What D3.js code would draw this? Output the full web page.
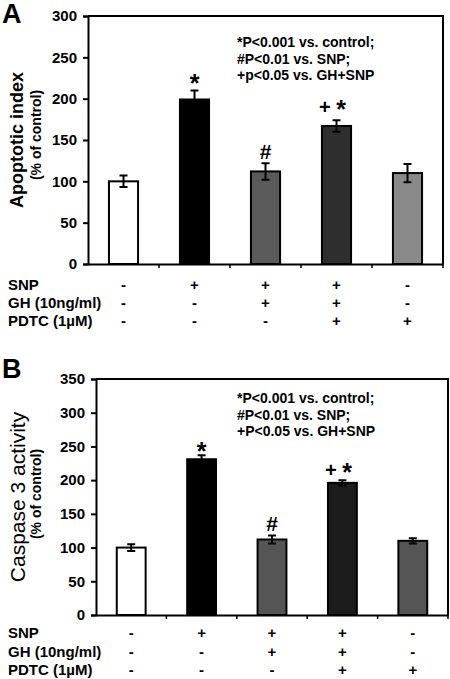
<!DOCTYPE html>
<html><head><meta charset="utf-8">
<script src="https://cdn.jsdelivr.net/npm/d3@7"></script>
<style>body{margin:0;background:#fff}svg{display:block}text{font-family:Arial,"Liberation Sans",sans-serif}</style>
</head><body>
<script>
const groups = ["Control","SNP","GH+SNP","GH+SNP+PDTC","PDTC"];
const rowLabels = ["SNP","GH (10ng/ml)","PDTC (1\u00b5M)"];
const treatments = [["-","+","+","+","-"],["-","-","+","+","-"],["-","-","-","+","+"]];
const notes = ["*P<0.001 vs. control;","#P<0.01 vs. SNP;"];

const apoptoticValues = [100,199,112,167,110];
const apoptoticErrors = [7,11,10,7,11];
const apoptoticColors = ["#ffffff","#000000","#5a5a5a","#2e2e2e","#8a8a8a"];
const apoptoticMarks = ["","*","#","+ *",""];
const apoptoticTicks = [0,50,100,150,200,250,300];
const apoptoticNote3 = "+p<0.05 vs. GH+SNP";

const caspaseValues = [100,231,112,196,110];
const caspaseErrors = [5,6,6,4,4];
const caspaseColors = ["#ffffff","#000000","#555555","#1c1c1c","#555555"];
const caspaseMarks = ["","*","#","+ *",""];
const caspaseTicks = [0,50,100,150,200,250,300,350];
const caspaseNote3 = "+P<0.05 vs. GH+SNP";

const W=450,H=679;
const svg=d3.select("body").append("svg").attr("width",W).attr("height",H);

function panel(cfg){
  const g=svg.append("g");
  const x=d3.scaleBand().domain(groups).range([cfg.left,cfg.right]).paddingInner(0.59).paddingOuter(0.295);
  const xb=d3.scaleBand().domain(groups).range([cfg.left,cfg.right]);
  const y=d3.scaleLinear().domain([0,cfg.ticks[cfg.ticks.length-1]]).range([cfg.bottom,cfg.top]);
  g.append("path").attr("d",`M${cfg.left},${cfg.top}H${cfg.right}V${cfg.bottom}`).attr("fill","none").attr("stroke","#000").attr("stroke-width",2);
  g.selectAll("rect.bar").data(groups).join("rect")
    .attr("x",d=>x(d)).attr("width",x.bandwidth())
    .attr("y",(d,i)=>y(cfg.values[i])).attr("height",(d,i)=>y(0)-y(cfg.values[i]))
    .attr("fill",(d,i)=>cfg.colors[i]).attr("stroke","#000").attr("stroke-width",2);
  groups.forEach((d,i)=>{
    const cx=x(d)+x.bandwidth()/2, v=cfg.values[i], e=cfg.errors[i];
    g.append("path").attr("d",`M${cx},${y(v-e)}V${y(v+e)}M${cx-4},${y(v-e)}H${cx+4}M${cx-4},${y(v+e)}H${cx+4}`)
      .attr("stroke","#000").attr("stroke-width",2).attr("fill","none");
    const m=cfg.marks[i];
    if(m){
      const t=g.append("text").attr("x",cx-(m.length>1?4:0)).attr("y",y(v+e)-cfg.markOff)
        .attr("text-anchor","middle").attr("font-weight","bold");
      if(m==="#") t.attr("font-size",21).attr("dy",-cfg.hashOff).text("#");
      else if(m==="*") t.attr("font-size",25).attr("dy",6).text("*");
      else { t.append("tspan").attr("font-size",20).text("+ ");
             t.append("tspan").attr("font-size",25).attr("dy",4).text("*"); t.attr("dy",-2); }
    }
  });
  const ya=g.append("g").attr("transform",`translate(${cfg.left},0)`)
    .call(d3.axisLeft(y).tickValues(cfg.ticks).tickSize(5).tickPadding(6));
  ya.select(".domain").attr("stroke-width",2);
  ya.selectAll(".tick line").attr("stroke-width",2);
  ya.selectAll("text").attr("font-size",15).attr("font-weight","bold").attr("font-family","Arial, Liberation Sans").attr("fill","#000");
  const xa=g.append("g").attr("transform",`translate(0,${cfg.bottom})`)
    .call(d3.axisBottom(xb).tickSize(0).tickFormat(""));
  xa.select(".domain").attr("stroke-width",2);
  groups.forEach(d=>{
    g.append("line").attr("x1",xb(d)+xb.bandwidth()).attr("x2",xb(d)+xb.bandwidth())
      .attr("y1",cfg.bottom).attr("y2",cfg.bottom+4).attr("stroke","#000").attr("stroke-width",1.5);
  });
  g.append("text").attr("transform",`translate(${cfg.ylx},${(cfg.top+cfg.bottom)/2}) rotate(-90)`)
    .attr("text-anchor","middle").attr("font-size",cfg.ylSize).attr("font-weight",cfg.ylWeight).text(cfg.ylabel);
  g.append("text").attr("transform",`translate(${cfg.ylx2},${cfg.yl2c}) rotate(-90)`)
    .attr("text-anchor","middle").attr("font-size",14).attr("font-weight","bold").text("(% of control)");
  g.append("text").attr("x",2).attr("y",cfg.letterY).attr("font-size",27).attr("font-weight","bold").text(cfg.letter);
  [notes[0],notes[1],cfg.note3].forEach((t,k)=>{
    g.append("text").attr("x",237).attr("y",cfg.noteY+k*16.5).attr("font-size",14).attr("font-weight","bold").text(t);
  });
  rowLabels.forEach((r,k)=>{
    const ty=cfg.tableY+k*cfg.rowGap;
    g.append("text").attr("x",8).attr("y",ty).attr("font-size",15).attr("font-weight","bold").text(r);
    treatments[k].forEach((s,i)=>{
      g.append("text").attr("x",x(groups[i])+x.bandwidth()/2).attr("y",ty).attr("text-anchor","middle")
        .attr("font-size",15).attr("font-weight","bold").text(s);
    });
  });
}

panel({left:88,right:443,top:16,bottom:264,ticks:apoptoticTicks,values:apoptoticValues,errors:apoptoticErrors,
  colors:apoptoticColors,marks:apoptoticMarks,markOff:4,hashOff:0,ylabel:"Apoptotic index",ylSize:18,ylWeight:"bold",
  ylx:23,ylx2:41,yl2c:135,letter:"A",letterY:23,note3:apoptoticNote3,noteY:47,tableY:290,rowGap:18});
panel({left:96,right:448,top:379,bottom:615,ticks:caspaseTicks,values:caspaseValues,errors:caspaseErrors,
  colors:caspaseColors,marks:caspaseMarks,markOff:1,hashOff:3,ylabel:"Caspase 3 activity",ylSize:21,ylWeight:"normal",
  ylx:25,ylx2:41,yl2c:494,letter:"B",letterY:378,note3:caspaseNote3,noteY:403,tableY:638,rowGap:18.5});
</script>
</body></html>
